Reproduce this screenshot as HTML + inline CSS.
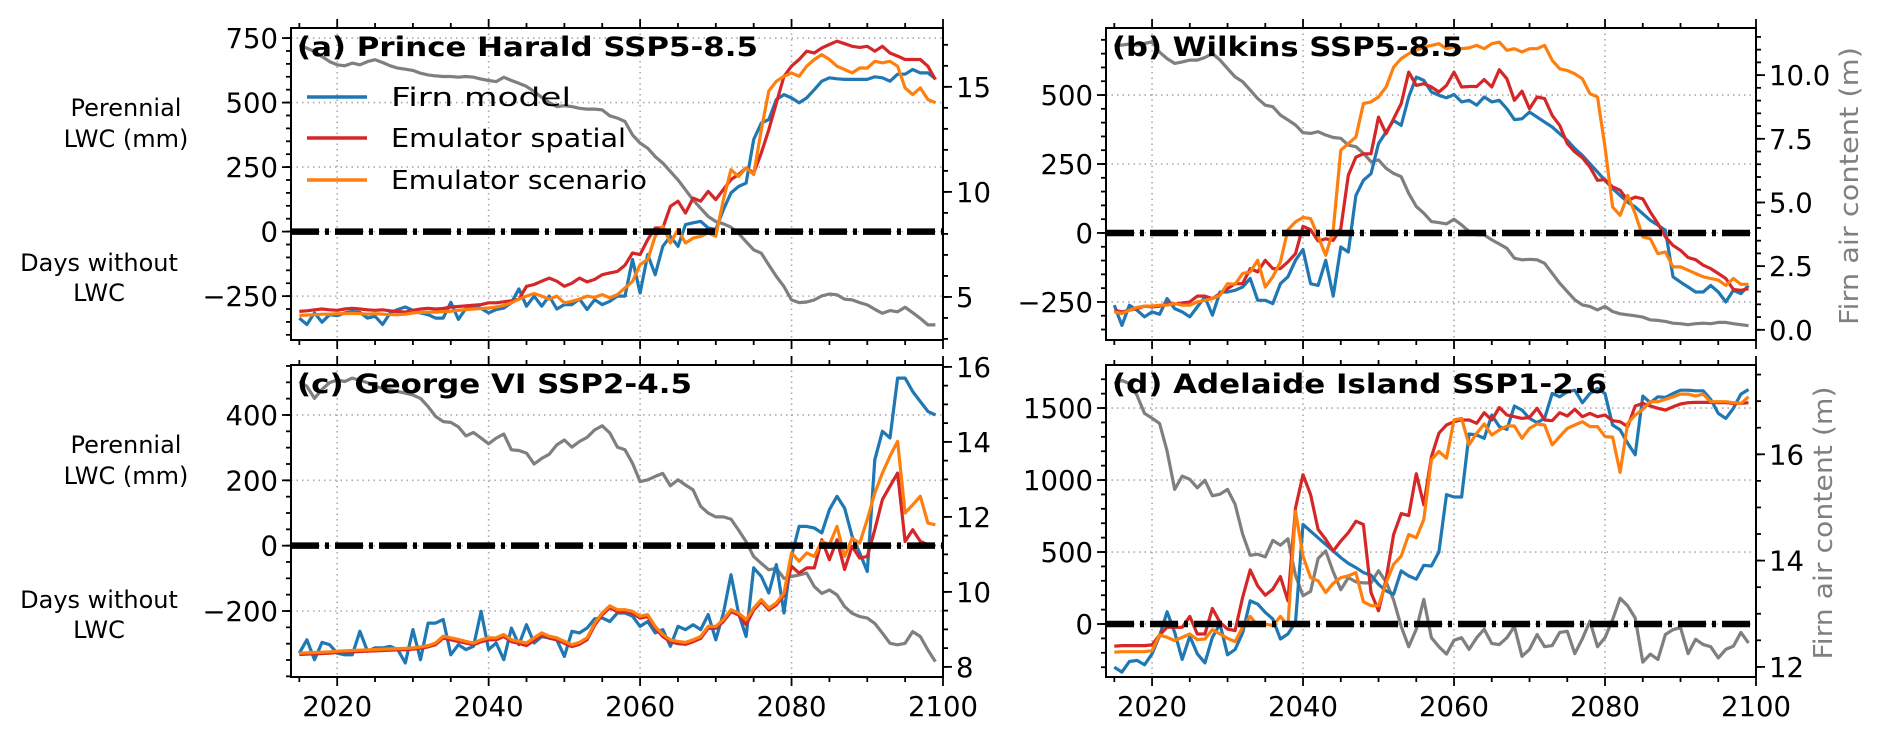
<!DOCTYPE html>
<html><head><meta charset="utf-8"><style>
html,body{margin:0;padding:0;background:#fff;}
svg{display:block;font-family:"DejaVu Sans","Liberation Sans",sans-serif;}
</style></head><body>
<svg id="chart" width="1892" height="735" viewBox="0 0 1892 735" xmlns="http://www.w3.org/2000/svg"></svg>
<script>
const startYear = 2015;
const xTicks = [2020, 2040, 2060, 2080, 2100];
const xTickLabels = ["2020", "2040", "2060", "2080", "2100"];

const aFirn = [-335,-360,-315,-351,-322,-326,-315,-309,-313,-335,
-328,-360,-315,-302,-292,-305,-315,-322,-335,-335,
-274,-340,-298,-289,-298,-315,-302,-296,-276,-222,
-289,-250,-289,-250,-300,-283,-283,-261,-302,-264,
-283,-270,-250,-250,-108,-238,-89,-167,-57,-18,
-57,27,34,40,14,8,85,150,175,188,
357,421,434,512,531,518,499,518,550,583,
596,592,590,590,590,590,600,596,583,610,
610,628,615,615,592];
const aSpatial = [-309,-307,-303,-300,-303,-305,-300,-297,-300,-303,
-305,-303,-307,-310,-312,-305,-300,-297,-300,-298,
-292,-290,-288,-285,-283,-276,-276,-272,-268,-262,
-212,-205,-192,-180,-192,-212,-200,-180,-195,-185,
-167,-160,-154,-130,-83,-89,-31,14,14,98,
118,72,130,118,156,124,163,202,221,247,
227,305,395,499,602,641,667,699,692,712,
725,738,728,718,714,718,699,718,692,680,
667,667,667,641,589];
const aScenario = [-325,-323,-322,-320,-320,-318,-318,-317,-318,-320,
-318,-320,-322,-322,-320,-315,-313,-312,-312,-310,
-308,-305,-302,-300,-298,-296,-292,-286,-276,-262,
-250,-240,-250,-262,-250,-276,-270,-262,-250,-255,
-244,-257,-244,-218,-193,-128,-108,-18,21,-44,
8,-44,-25,-18,-5,-18,124,240,214,247,
221,395,545,583,602,615,602,641,667,686,
667,641,628,615,634,634,660,654,660,641,
557,531,557,512,500];
const aFAC = [17.0,16.84,16.68,16.44,16.2,16.05,16.0,16.13,16.05,16.2,
16.29,16.16,16.0,15.89,15.84,15.78,15.65,15.57,15.52,15.49,
15.49,15.46,15.49,15.46,15.37,15.3,15.25,15.46,15.3,15.17,
15.02,14.78,14.5,14.25,14.06,14.1,14.06,13.98,13.94,13.94,
13.9,13.62,13.51,13.35,12.71,12.32,12.08,11.68,11.37,10.97,
10.57,10.1,9.62,9.22,8.83,8.59,8.48,8.32,8.03,7.63,
7.24,7.08,6.52,5.97,5.49,4.86,4.73,4.76,4.86,5.05,
5.14,5.1,4.89,4.86,4.73,4.62,4.41,4.22,4.35,4.29,
4.51,4.25,3.98,3.67,3.67];

const bFirn = [-262,-335,-262,-280,-304,-286,-295,-238,-274,-286,
-304,-268,-232,-298,-214,-214,-208,-196,-165,-244,
-244,-256,-184,-159,-99,-60,-184,-190,-99,-229,
-51,-69,136,191,215,324,366,408,390,493,
565,553,511,499,490,502,475,481,463,493,
475,481,450,411,414,438,420,402,384,360,
336,306,281,251,221,191,161,136,112,94,
70,46,28,10,-159,-178,-196,-214,-214,-190,
-214,-250,-208,-220,-190];
const bSpatial = [-280,-286,-280,-274,-265,-268,-265,-256,-258,-254,
-250,-229,-229,-238,-220,-202,-184,-184,-129,-141,
-99,-129,-129,-105,-75,24,12,-29,-21,-27,
16,209,275,287,287,420,360,414,469,583,
535,541,529,511,535,583,529,531,531,556,
529,592,559,481,514,450,493,487,426,390,
324,294,273,239,191,193,167,155,118,130,
124,76,34,-14,-45,-63,-89,-97,-117,-129,
-147,-165,-205,-208,-202];
const bScenario = [-286,-292,-280,-270,-265,-265,-262,-262,-256,-262,
-262,-250,-244,-238,-226,-184,-186,-147,-141,-99,
-196,-159,-105,12,40,56,52,-12,-81,10,
300,324,348,469,475,493,529,601,632,650,
662,674,680,686,668,674,668,671,680,668,
686,692,662,668,656,668,668,680,626,595,
589,577,559,505,493,312,94,64,136,70,
-14,-21,-75,-69,-123,-123,-135,-147,-159,-165,
-171,-190,-165,-186,-186];
const bFAC = [11.18,11.18,11.22,11.18,11.24,11.31,10.9,10.65,10.46,10.52,
10.59,10.59,10.69,10.85,10.59,10.26,9.93,9.74,9.41,9.08,
8.82,8.76,8.43,8.24,8.04,7.74,7.71,7.78,7.65,7.55,
7.52,7.25,7.19,6.93,6.6,6.67,6.34,6.14,6.01,5.36,
4.84,4.58,4.25,4.21,4.16,4.34,4.12,3.86,3.73,3.73,
3.53,3.37,3.2,2.81,2.75,2.77,2.75,2.61,2.22,1.83,
1.5,1.18,0.98,0.92,0.78,0.92,0.72,0.63,0.59,0.55,
0.5,0.39,0.37,0.33,0.26,0.24,0.2,0.24,0.26,0.24,
0.29,0.29,0.24,0.2,0.16];

const cFirn = [-329,-288,-349,-296,-303,-329,-334,-334,-262,-323,
-313,-313,-308,-318,-359,-257,-349,-237,-237,-226,
-334,-303,-318,-308,-201,-318,-298,-349,-252,-303,
-242,-298,-278,-283,-288,-339,-262,-267,-252,-224,
-221,-232,-206,-206,-216,-247,-232,-267,-257,-308,
-247,-257,-242,-257,-211,-288,-206,-89,-206,-278,
-68,-94,-145,-58,-206,-33,59,59,54,39,
110,151,115,29,-22,-79,263,350,330,513,
513,472,441,411,400];
const cSpatial = [-333,-332,-331,-330,-329,-327,-326,-325,-324,-323,
-322,-321,-320,-319,-318,-317,-314,-310,-303,-283,
-288,-293,-298,-303,-294,-288,-288,-278,-294,-299,
-306,-290,-273,-283,-288,-299,-309,-302,-288,-243,
-212,-190,-202,-202,-207,-222,-217,-253,-278,-294,
-300,-302,-294,-284,-253,-253,-232,-202,-212,-242,
-197,-171,-197,-181,-151,-63,-84,-68,-68,18,
-43,18,-73,-2,-38,-33,49,141,182,222,
13,49,13,3,0];
const cScenario = [-329,-328,-327,-326,-325,-323,-322,-321,-320,-319,
-318,-317,-316,-315,-314,-313,-310,-306,-298,-277,
-282,-287,-293,-298,-288,-282,-282,-272,-288,-293,
-298,-282,-267,-277,-282,-293,-303,-296,-282,-237,
-206,-184,-196,-196,-201,-216,-211,-247,-272,-288,
-293,-296,-288,-278,-247,-247,-226,-196,-206,-226,
-191,-165,-191,-175,-145,-22,-48,-22,-33,13,
3,59,-33,23,8,80,161,222,274,319,
100,125,151,69,64];
const cFAC = [15.61,15.48,15.16,15.4,15.58,15.65,15.61,15.7,15.64,15.58,
15.48,15.43,15.39,15.34,15.3,15.25,15.16,14.94,14.68,14.54,
14.52,14.4,14.16,14.25,14.1,13.95,14.1,14.21,13.79,13.77,
13.7,13.41,13.56,13.67,13.92,14.05,13.86,14.01,14.12,14.32,
14.43,14.24,13.86,13.79,13.43,12.94,12.99,13.08,13.16,12.83,
12.99,12.85,12.72,12.28,12.1,12.0,12.0,11.94,11.65,11.34,
10.94,10.76,10.59,10.63,10.36,10.41,10.45,10.5,10.14,9.96,
10.05,9.92,9.61,9.43,9.34,9.3,9.16,8.9,8.63,8.59,
8.63,8.94,8.81,8.45,8.14];

const dFirn = [-300,-334,-260,-253,-283,-207,-81,85,-58,-246,
-85,-207,-270,-92,0,-214,-177,-62,161,138,
81,35,-104,-69,12,691,645,599,553,507,
461,422,392,357,339,276,230,207,369,334,
311,408,403,500,899,882,882,1320,1313,1290,
1452,1371,1352,1514,1486,1428,1399,1428,1601,1578,
1613,1624,1537,1601,1636,1601,1382,1348,1256,1175,
1583,1537,1578,1574,1601,1624,1624,1620,1620,1560,
1463,1428,1498,1597,1629];
const dSpatial = [-154,-150,-150,-150,-150,-145,-76,-23,-23,-23,
53,-69,-69,108,12,-35,-46,184,376,265,
200,242,329,161,806,1037,899,657,588,507,
576,634,714,691,219,92,311,622,767,753,
1044,829,1161,1325,1382,1405,1417,1417,1394,1468,
1417,1504,1452,1440,1428,1435,1498,1417,1412,1468,
1445,1491,1440,1463,1440,1452,1412,1405,1371,1514,
1532,1514,1498,1486,1509,1528,1537,1539,1539,1539,
1537,1537,1532,1532,1537];
const dScenario = [-196,-192,-192,-192,-192,-184,-76,-92,-115,-92,
-69,-108,-104,-39,-69,-99,-122,-23,53,-12,
0,-12,53,-12,783,472,322,300,219,283,
322,334,357,154,127,127,288,415,472,622,
599,726,1141,1198,1152,1417,1428,1244,1325,1389,
1313,1348,1375,1375,1290,1359,1389,1382,1244,1302,
1359,1382,1405,1371,1371,1302,1298,1053,1394,1452,
1491,1544,1544,1560,1578,1597,1597,1583,1597,1544,
1544,1544,1537,1532,1578];
const dFAC = [17.33,17.39,17.33,17.11,16.77,16.68,16.58,16.06,15.34,15.59,
15.53,15.37,15.51,15.22,15.25,15.34,15.06,14.5,14.1,14.12,
14.07,14.38,14.29,14.41,13.72,13.34,13.42,14.04,14.18,13.79,
13.45,13.68,13.6,13.58,13.58,13.81,13.6,13.26,12.76,12.38,
12.71,13.27,12.55,12.38,12.24,12.5,12.55,12.33,12.55,12.71,
12.44,12.42,12.55,12.76,12.2,12.33,12.61,12.38,12.4,12.65,
12.67,12.25,12.53,12.86,12.38,12.55,12.89,13.29,13.15,12.92,
12.09,12.24,12.14,12.61,12.7,12.74,12.25,12.52,12.42,12.38,
12.17,12.33,12.39,12.65,12.45];

const aLeftTicks = [750, 500, 250, 0, -250];
const aLeftLabels = ["750", "500", "250", "0", "\u2212250"];
const aRightTicks = [5, 10, 15];
const aRightLabels = ["5", "10", "15"];
const bLeftTicks = [500, 250, 0, -250];
const bLeftLabels = ["500", "250", "0", "\u2212250"];
const bRightTicks = [0, 2.5, 5, 7.5, 10];
const bRightLabels = ["0.0", "2.5", "5.0", "7.5", "10.0"];
const cLeftTicks = [400, 200, 0, -200];
const cLeftLabels = ["400", "200", "0", "\u2212200"];
const cRightTicks = [8, 10, 12, 14, 16];
const cRightLabels = ["8", "10", "12", "14", "16"];
const dLeftTicks = [1500, 1000, 500, 0];
const dLeftLabels = ["1500", "1000", "500", "0"];
const dRightTicks = [12, 14, 16];
const dRightLabels = ["12", "14", "16"];

const NS = "http://www.w3.org/2000/svg";
const svg = document.getElementById("chart");
function mk(tag, attrs, parent) {
  const e = document.createElementNS(NS, tag);
  for (const k in attrs) e.setAttribute(k, attrs[k]);
  (parent || svg).appendChild(e);
  return e;
}
const XMIN = 2013.9, XMAX = 2100;
const TICKFONT = 27.5;

const panels = [
  {id:"a", x0:291, x1:943, y0:28, y1:340, L:[-420,789], R:[2.95,17.8], lMinor:50, rMinor:1,
   firn:aFirn, sp:aSpatial, sc:aScenario, fac:aFAC, lt:aLeftTicks, ll:aLeftLabels, rt:aRightTicks, rl:aRightLabels,
   title:"(a) Prince Harald SSP5-8.5", tlen:461, xlabels:false, rlabel:false},
  {id:"b", x0:1106, x1:1756, y0:28, y1:340, L:[-388,743], R:[-0.4,11.85], lMinor:50, rMinor:0.5,
   firn:bFirn, sp:bSpatial, sc:bScenario, fac:bFAC, lt:bLeftTicks, ll:bLeftLabels, rt:bRightTicks, rl:bRightLabels,
   title:"(b) Wilkins SSP5-8.5", tlen:351, xlabels:false, rlabel:true, rlx:1858, rly:186, rllen:278},
  {id:"c", x0:291, x1:943, y0:365, y1:677, L:[-402,553], R:[7.73,16.05], lMinor:50, rMinor:0.5,
   firn:cFirn, sp:cSpatial, sc:cScenario, fac:cFAC, lt:cLeftTicks, ll:cLeftLabels, rt:cRightTicks, rl:cRightLabels,
   title:"(c) George VI SSP2-4.5", tlen:395, xlabels:true, rlabel:false},
  {id:"d", x0:1106, x1:1756, y0:365, y1:677, L:[-368,1799], R:[11.81,17.68], lMinor:100, rMinor:0.5,
   firn:dFirn, sp:dSpatial, sc:dScenario, fac:dFAC, lt:dLeftTicks, ll:dLeftLabels, rt:dRightTicks, rl:dRightLabels,
   title:"(d) Adelaide Island SSP1-2.6", tlen:495, xlabels:true, rlabel:true, rlx:1832, rly:523, rllen:273}
];

panels.forEach(p => {
  const g = mk("g", {});
  
  
  const X = v => p.x0 + (v - XMIN) / (XMAX - XMIN) * (p.x1 - p.x0);
  const YL = v => p.y1 - (v - p.L[0]) / (p.L[1] - p.L[0]) * (p.y1 - p.y0);
  const YR = v => p.y1 - (v - p.R[0]) / (p.R[1] - p.R[0]) * (p.y1 - p.y0);

  const grid = mk("g", {stroke:"#aaa", "stroke-width":1.6, "stroke-dasharray":"1.5 4"}, g);
  
  
  xTicks.forEach(t => { if (t < XMAX) mk("line", {x1:X(t), x2:X(t), y1:p.y0, y2:p.y1}, grid); });
  p.lt.forEach(t => mk("line", {x1:p.x0, x2:p.x1, y1:YL(t), y2:YL(t)}, grid));

  const clip = mk("clipPath", {id:"clip-" + p.id}, g);
  mk("rect", {x:p.x0, y:p.y0, width:p.x1 - p.x0, height:p.y1 - p.y0}, clip);
  const plot = mk("g", {"clip-path":"url(#clip-" + p.id + ")"}, g);

  function series(arr, Y, color, name) {
    const pts = arr.map((v, i) => X(startYear + i).toFixed(1) + "," + Y(v).toFixed(1)).join(" ");
    const pl = mk("polyline", {points:pts, fill:"none", stroke:color, "stroke-width":3.2, "stroke-linejoin":"round"}, plot);
    
    
  }
  series(p.fac, YR, "#7f7f7f", "firn-air-content-line-" + p.id);
  series(p.firn, YL, "#1f77b4", "firn-model-line-" + p.id);
  series(p.sp, YL, "#d62728", "emulator-spatial-line-" + p.id);
  series(p.sc, YL, "#ff7f0e", "emulator-scenario-line-" + p.id);

  const zl = mk("line", {x1:p.x0, x2:p.x1, y1:YL(0), y2:YL(0), stroke:"#000", "stroke-width":6.5, "stroke-dasharray":"28 6 4 6"}, g);
  
  

  const fr = mk("rect", {x:p.x0, y:p.y0, width:p.x1 - p.x0, height:p.y1 - p.y0, fill:"none", stroke:"#000", "stroke-width":2}, g);
  
  

  const ticks = mk("g", {stroke:"#000", "stroke-width":1.8}, g);
  
  
  for (let yr = 2015; yr <= 2100; yr += 5) {
    const major = yr % 20 === 0;
    const len = major ? 9 : 5;
    mk("line", {x1:X(yr), x2:X(yr), y1:p.y1, y2:p.y1 + len}, ticks);
    mk("line", {x1:X(yr), x2:X(yr), y1:p.y0, y2:p.y0 - len}, ticks);
  }
  for (let v = Math.ceil(p.L[0] / p.lMinor) * p.lMinor; v <= p.L[1]; v += p.lMinor) {
    mk("line", {x1:p.x0, x2:p.x0 - 5, y1:YL(v), y2:YL(v)}, ticks);
  }
  p.lt.forEach(t => mk("line", {x1:p.x0, x2:p.x0 - 9, y1:YL(t), y2:YL(t)}, ticks));
  for (let v = Math.ceil(p.R[0] / p.rMinor) * p.rMinor; v <= p.R[1]; v += p.rMinor) {
    mk("line", {x1:p.x1, x2:p.x1 + 5, y1:YR(v), y2:YR(v)}, ticks);
  }
  p.rt.forEach(t => mk("line", {x1:p.x1, x2:p.x1 + 9, y1:YR(t), y2:YR(t)}, ticks));

  p.lt.forEach((t, i) => {
    const tx = mk("text", {x:p.x0 - 13, y:YL(t) + 10, "text-anchor":"end", "font-size":TICKFONT, fill:"#000"}, g);
    tx.textContent = p.ll[i];
    
    
  });
  p.rt.forEach((t, i) => {
    const tx = mk("text", {x:p.x1 + 13, y:YR(t) + 10, "text-anchor":"start", "font-size":TICKFONT, fill:"#000"}, g);
    tx.textContent = p.rl[i];
    
    
  });
  if (p.xlabels) {
    xTicks.forEach((t, i) => {
      const tx = mk("text", {x:X(t), y:716, "text-anchor":"middle", "font-size":TICKFONT, fill:"#000"}, g);
      tx.textContent = xTickLabels[i];
      
      
    });
  }
  const tt = mk("text", {x:p.x0 + 6, y:p.y0 + 28, "font-size":27, "font-weight":"bold", fill:"#000", textLength:p.tlen, lengthAdjust:"spacingAndGlyphs"}, g);
  tt.textContent = p.title;
  
  
  if (p.rlabel) {
    const rl = mk("text", {x:0, y:0, "text-anchor":"middle", "font-size":26, fill:"#808080", transform:"translate(" + p.rlx + "," + p.rly + ") rotate(-90)", textLength:p.rllen, lengthAdjust:"spacingAndGlyphs"}, g);
    rl.textContent = "Firn air content (m)";
    
    
  }
  if (p.x0 < 500) {
    const off = p.y0 - 28;
    [["Perennial", 116, 126], ["LWC (mm)", 147, 126], ["Days without", 271, 99], ["LWC", 301, 99]].forEach(([s, yy, cx]) => {
      const tx = mk("text", {x:cx, y:yy + off, "text-anchor":"middle", "font-size":24, fill:"#000"}, g);
      tx.textContent = s;
      
      
    });
  }
});

const leg = mk("g", {});


[["Firn model", "#1f77b4", 97, 180], ["Emulator spatial", "#d62728", 138, 235], ["Emulator scenario", "#ff7f0e", 180, 256]].forEach(([s, c, yy, len]) => {
  const ln = mk("line", {x1:307, x2:367, y1:yy, y2:yy, stroke:c, "stroke-width":3.5}, leg);
  
  
  const tx = mk("text", {x:391, y:yy + 9, "font-size":26, fill:"#000", textLength:len, lengthAdjust:"spacingAndGlyphs"}, leg);
  tx.textContent = s;
  
  
});
</script>
</body></html>
